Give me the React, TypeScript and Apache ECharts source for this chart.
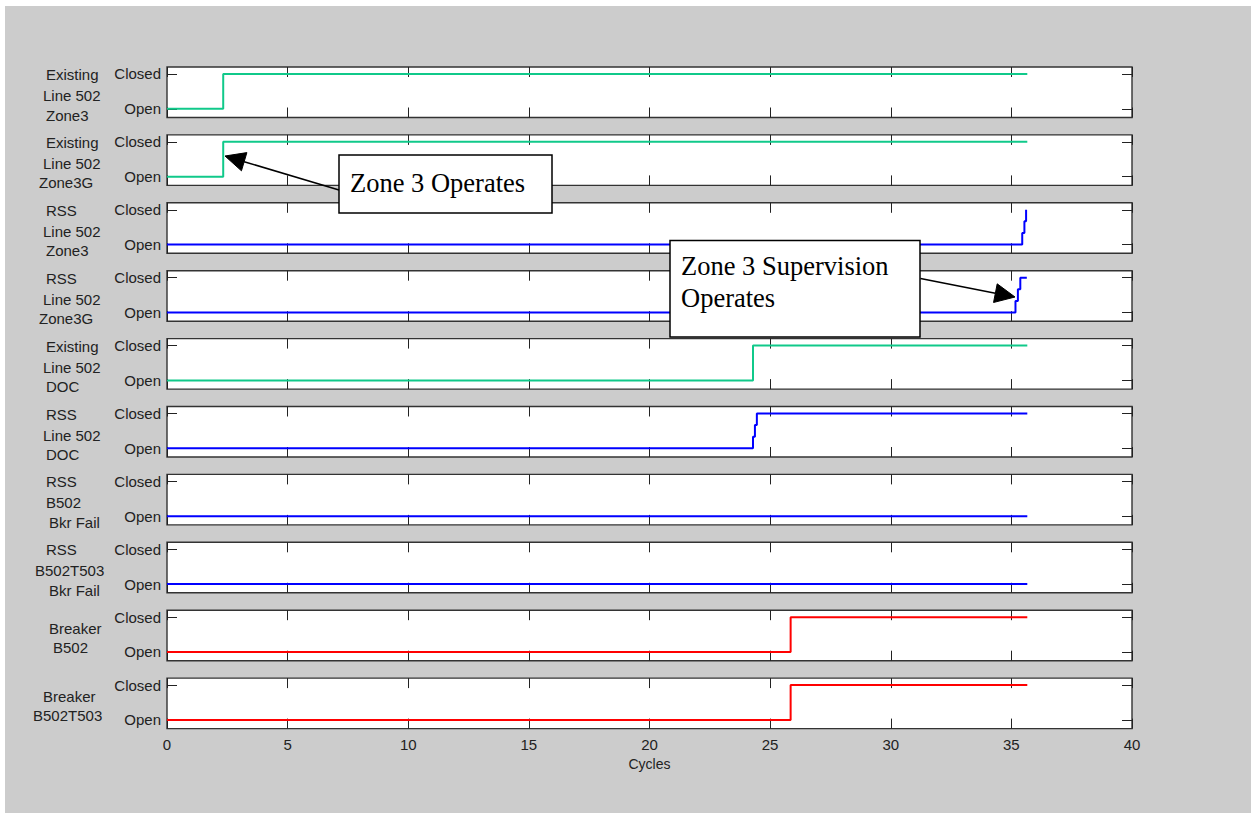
import React, { useEffect, useRef } from "react";
import * as echarts from "echarts";

// ---- data ----
const panelLabels: string[][] = [
  ["Existing", "Line 502", "Zone3"],
  ["Existing", "Line 502", "Zone3G"],
  ["RSS", "Line 502", "Zone3"],
  ["RSS", "Line 502", "Zone3G"],
  ["Existing", "Line 502", "DOC"],
  ["RSS", "Line 502", "DOC"],
  ["RSS", "B502", "Bkr Fail"],
  ["RSS", "B502T503", "Bkr Fail"],
  ["Breaker", "B502"],
  ["Breaker", "B502T503"],
];

const seriesKind = ["existing", "existing", "rss", "rss", "existing", "rss", "rss", "rss", "breaker", "breaker"];

const existingZone3: number[][] = [[0, 0], [2.33, 1], [35.66, 1]];
const existingZone3G: number[][] = [[0, 0], [2.33, 1], [35.66, 1]];
const rssZone3: number[][] = [[0, 0], [35.45, 0.33], [35.54, 0.67], [35.61, 1]];
const rssZone3G: number[][] = [[0, 0], [35.17, 0.33], [35.27, 0.67], [35.37, 1], [35.64, 1]];
const existingDOC: number[][] = [[0, 0], [24.29, 1], [35.66, 1]];
const rssDOC: number[][] = [[0, 0], [24.29, 0.33], [24.37, 0.67], [24.45, 1], [35.66, 1]];
const rssB502BF: number[][] = [[0, 0], [35.66, 0]];
const rssB502T503BF: number[][] = [[0, 0], [35.66, 0]];
const breakerB502: number[][] = [[0, 0], [25.85, 1], [35.66, 1]];
const breakerB502T503: number[][] = [[0, 0], [25.85, 1], [35.66, 1]];

const panelData = [
  existingZone3, existingZone3G, rssZone3, rssZone3G, existingDOC,
  rssDOC, rssB502BF, rssB502T503BF, breakerB502, breakerB502T503,
];

const stateTicks = [0, 1];
const stateNames = ["Open", "Closed"];
const xMin = 0;
const xMax = 40;
const xStep = 5;
const xName = "Cycles";

const note1 = "Zone 3 Operates";
const note2 = ["Zone 3 Supervision", "Operates"];

// ---- layout / style ----
const kindColor: Record<string, string> = {
  existing: "#10c98a",
  rss: "#0000ff",
  breaker: "#ff0000",
};
const labelX: number[][] = [
  [46, 43, 46], [46, 43, 39], [46, 43, 46], [46, 43, 39], [46, 43, 46],
  [46, 43, 46], [46, 46, 49], [46, 35, 49], [49, 53], [43, 33],
];
const GRID_LEFT = 167;
const GRID_W = 965;
const GRID_TOP0 = 67;
const GRID_PITCH = 67.9;
const GRID_H = 50.5;
const FONT = "'Liberation Sans', Arial, sans-serif";
const SERIF = "'Liberation Serif', 'Times New Roman', serif";

function arrow(tail: number[], tip: number[]) {
  const dx = tip[0] - tail[0];
  const dy = tip[1] - tail[1];
  const len = Math.sqrt(dx * dx + dy * dy);
  const ux = dx / len, uy = dy / len;
  const nx = -uy, ny = ux;
  const L = 20, W = 9.5;
  const bx = tip[0] - ux * L, by = tip[1] - uy * L;
  return [
    {
      type: "line", z: 100,
      shape: { x1: tail[0], y1: tail[1], x2: bx, y2: by },
      style: { stroke: "#000", lineWidth: 1.5 },
    },
    {
      type: "polygon", z: 100,
      shape: { points: [[tip[0], tip[1]], [bx + nx * W, by + ny * W], [bx - nx * W, by - ny * W]] },
      style: { fill: "#000", stroke: "#000", lineWidth: 1 },
    },
  ];
}

export default function App() {
  const ref = useRef<HTMLDivElement>(null);
  useEffect(() => {
    if (!ref.current) return;
    const chart = echarts.init(ref.current, null, { renderer: "svg" });
    const n = panelData.length;
    const grids: any[] = [];
    const xAxes: any[] = [];
    const yAxes: any[] = [];
    const series: any[] = [];
    const graphics: any[] = [];
    for (let i = 0; i < n; i++) {
      const top = GRID_TOP0 + i * GRID_PITCH;
      grids.push({
        left: GRID_LEFT, width: GRID_W, top, height: GRID_H,
        show: true, backgroundColor: "#ffffff", borderColor: "#333", borderWidth: 1.4,
      });
      const tick = { show: true, inside: true, length: 10, lineStyle: { color: "#222", width: 1 } };
      xAxes.push({
        gridIndex: i, type: "value", min: xMin, max: xMax, interval: xStep, position: "bottom",
        axisLine: { show: false, onZero: false }, axisTick: tick, splitLine: { show: false },
        axisLabel: { show: i === n - 1, fontFamily: FONT, fontSize: 15, color: "#222", margin: 8 },
        name: i === n - 1 ? xName : "", nameLocation: "middle", nameGap: 28,
        nameTextStyle: { fontFamily: FONT, fontSize: 14, color: "#222" },
      });
      xAxes.push({
        gridIndex: i, type: "value", min: xMin, max: xMax, interval: xStep, position: "top",
        axisLine: { show: false, onZero: false }, axisTick: tick, splitLine: { show: false },
        axisLabel: { show: false },
      });
      yAxes.push({
        gridIndex: i, type: "value", min: -0.25, max: 1.2, position: "left",
        axisLine: { show: false, onZero: false }, splitLine: { show: false },
        axisTick: { ...tick, customValues: stateTicks },
        axisLabel: {
          customValues: stateTicks, fontFamily: FONT, fontSize: 15, color: "#222", margin: 6,
          formatter: (v: number) => stateNames[Math.round(v)] ?? "",
        },
      });
      yAxes.push({
        gridIndex: i, type: "value", min: -0.25, max: 1.2, position: "right",
        axisLine: { show: false, onZero: false }, splitLine: { show: false },
        axisTick: { ...tick, customValues: stateTicks },
        axisLabel: { show: false },
      });
      series.push({
        type: "line", xAxisIndex: 2 * i, yAxisIndex: 2 * i, data: panelData[i],
        step: "end", symbol: "none", showSymbol: false, silent: true,
        lineStyle: { color: kindColor[seriesKind[i]], width: 2 },
      });
      const lines = panelLabels[i];
      const ys = lines.length === 3 ? [7.5, 28.5, 48] : [18, 37];
      lines.forEach((t, k) => {
        graphics.push({
          type: "text", left: undefined, x: labelX[i][k], y: top + ys[k], z: 50,
          style: { text: t, fontFamily: FONT, fontSize: 15, fill: "#222", align: "left", verticalAlign: "middle" },
        });
      });
    }
    // annotation boxes
    graphics.push({
      type: "rect", z: 100, shape: { x: 339, y: 155, width: 213, height: 58 },
      style: { fill: "#fff", stroke: "#000", lineWidth: 1.5 },
    });
    graphics.push({
      type: "text", z: 101, x: 350, y: 183,
      style: { text: note1, fontFamily: SERIF, fontSize: 26.5, fill: "#000", align: "left", verticalAlign: "middle" },
    });
    graphics.push({
      type: "rect", z: 100, shape: { x: 670, y: 240.5, width: 250, height: 96.5 },
      style: { fill: "#fff", stroke: "#000", lineWidth: 1.5 },
    });
    note2.forEach((t, k) => {
      graphics.push({
        type: "text", z: 101, x: 681, y: 266 + k * 31.7,
        style: { text: t, fontFamily: SERIF, fontSize: 26.5, fill: "#000", align: "left", verticalAlign: "middle" },
      });
    });
    graphics.push(...arrow([339, 190], [225, 156]));
    graphics.push(...arrow([920.5, 278.5], [1015, 297]));

    chart.setOption({
      animation: false,
      backgroundColor: "transparent",
      textStyle: { fontFamily: FONT },
      grid: grids,
      xAxis: xAxes,
      yAxis: yAxes,
      series,
      graphic: graphics,
    });
    return () => chart.dispose();
  }, []);
  return (
    <div style={{ position: "fixed", left: 0, top: 0, width: 1251, height: 813, background: "#fff" }}>
      <div style={{ position: "absolute", left: 5, top: 6, right: 0, bottom: 0, background: "#cccccc" }} />
      <div ref={ref} style={{ position: "absolute", left: 0, top: 0, width: 1251, height: 813 }} />
    </div>
  );
}
